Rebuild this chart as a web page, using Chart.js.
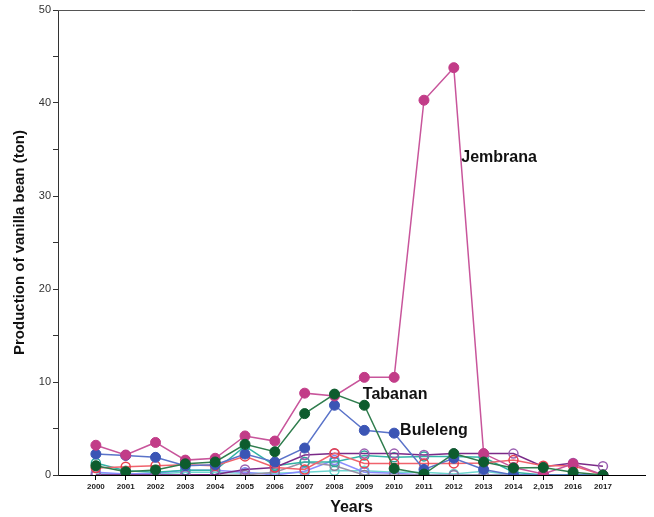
<!DOCTYPE html>
<html>
<head>
<meta charset="utf-8">
<script src="https://cdn.jsdelivr.net/npm/chart.js@4/dist/chart.umd.min.js"></script>
<style>
  body { margin: 0; background: #fff; }
  #wrap { width: 654px; height: 517px; position: relative; }
</style>
</head>
<body>
<div id="wrap"><canvas id="lineChart"></canvas></div>
<script>
// years on the x axis and the tick labels as printed
const years = [2000, 2001, 2002, 2003, 2004, 2005, 2006, 2007, 2008, 2009, 2010, 2011, 2012, 2013, 2014, 2015, 2016, 2017];
const yearLabels = ["2000", "2001", "2002", "2003", "2004", "2005", "2006", "2007", "2008", "2009", "2010", "2011", "2012", "2013", "2014", "2,015", "2016", "2017"];

// production of vanilla bean (ton) per regency
const tabanan   = [1.0, 0.35, 0.55, 1.2, 1.4, 3.3, 2.5, 6.6, 8.7, 7.5, 0.7, 0.1, 2.3, 1.4, 0.75, 0.8, 0.3, 0.0];
const jembrana  = [3.2, 2.15, 3.5, 1.6, 1.8, 4.2, 3.65, 8.8, 8.5, 10.5, 10.5, 40.3, 43.8, 2.3, 0.8, 0.1, 1.2, 0.0];
const buleleng  = [2.25, 2.1, 1.9, 1.0, 1.1, 2.25, 1.4, 2.9, 7.5, 4.8, 4.5, 0.6, 1.8, 0.6, 0.0, 0.0, 0.0, 0.0];
const badung    = [0.75, 0.9, 1.0, 1.1, 1.0, 2.0, 0.8, 0.6, 2.35, 1.25, 1.25, 1.25, 1.25, 1.3, 1.6, 1.0, 1.0, 0.0];
const gianyar   = [0.0, 0.0, 0.0, 0.0, 0.05, 0.6, 0.8, 2.15, 2.3, 2.3, 2.3, 2.15, 2.3, 2.3, 2.3, 0.9, 1.3, 0.95];
const karangasem = [1.3, 0.45, 0.3, 0.5, 0.5, 3.1, 1.0, 1.4, 1.4, 2.1, 1.9, 2.0, 2.0, 1.9, 0.3, 0.0, 0.0, 0.0];
const bangli    = [0.3, 0.1, 0.2, 0.5, 0.5, 0.3, 0.0, 0.4, 1.6, 0.3, 0.2, 0.0, 0.0, 0.0, 0.0, 0.0, 0.0, 0.0];
const klungkung = [0.1, 0.1, 0.1, 0.3, 0.3, 0.2, 0.2, 0.3, 0.45, 0.45, 0.3, 0.3, 0.1, 0.4, 0.0, 0.0, 0.0, 0.0];
const denpasar  = [0.0, 0.0, 0.0, 0.0, 0.0, 0.0, 0.3, 1.4, 1.0, 0.0, 0.0, 0.0, 0.0, 0.0, 0.0, 0.0, 0.0, 0.0];

// y ticks
const yMax = 50;
const yStep = 5;

// labels placed next to the lines
const callouts = [
  { text: "Jembrana", x: 2012.25, y: 34.1 },
  { text: "Tabanan", x: 2008.95, y: 8.6 },
  { text: "Buleleng", x: 2010.2, y: 4.8 }
];

const FONT = "'Liberation Sans', Arial, sans-serif";

function toPoints(values) {
  return values.map((v, i) => ({ x: years[i], y: v }));
}

function series(label, values, color, lineColor, filled) {
  return {
    label: label,
    data: toPoints(values),
    borderColor: lineColor,
    borderWidth: 1.5,
    pointRadius: filled ? 5 : 4.5,
    pointBorderWidth: filled ? 1 : 1.5,
    pointBackgroundColor: filled ? color : "rgba(255,255,255,0)",
    pointBorderColor: color,
    tension: 0
  };
}

// first dataset is drawn on top
const datasets = [
  series("Tabanan", tabanan, "#0d5c2e", "#2f7d4d", true),
  series("Jembrana", jembrana, "#c23c88", "#c8559b", true),
  series("Buleleng", buleleng, "#3b55b5", "#5a73c9", true),
  series("Badung", badung, "#e8414e", "#f0626c", false),
  series("Gianyar", gianyar, "#9a5fb0", "#7a2a88", false),
  series("Karangasem", karangasem, "#2aa89c", "#33b3a6", false),
  series("Denpasar", denpasar, "#8c8099", "#9a90a8", false),
  series("Bangli", bangli, "#7f86f2", "#8a8cff", false),
  series("Klungkung", klungkung, "#67d1ca", "#6fd6d0", false)
];

// top frame line and the text callouts
const extras = {
  id: "extras",
  beforeDatasetsDraw(chart) {
    const { ctx, chartArea } = chart;
    ctx.save();
    ctx.strokeStyle = "#555";
    ctx.lineWidth = 1;
    ctx.beginPath();
    ctx.moveTo(chartArea.left, chartArea.top + 0.5);
    ctx.lineTo(chartArea.right, chartArea.top + 0.5);
    ctx.stroke();
    ctx.restore();
  },
  afterDatasetsDraw(chart) {
    const { ctx, scales } = chart;
    ctx.save();
    ctx.font = "bold 16px " + FONT;
    ctx.fillStyle = "#111";
    ctx.textAlign = "left";
    ctx.textBaseline = "middle";
    callouts.forEach((c) => {
      ctx.fillText(c.text, scales.x.getPixelForValue(c.x), scales.y.getPixelForValue(c.y));
    });
    ctx.restore();
  }
};

const ctx = document.getElementById("lineChart").getContext("2d");
new Chart(ctx, {
  type: "line",
  data: { datasets: datasets },
  options: {
    responsive: true,
    maintainAspectRatio: false,
    animation: false,
    layout: { padding: { left: 0, right: 9, top: 10, bottom: 0 } },
    plugins: {
      legend: { display: false },
      tooltip: { enabled: false }
    },
    scales: {
      x: {
        type: "linear",
        min: 1998.73,
        max: 2018.41,
        afterBuildTicks: (scale) => {
          scale.ticks = years.map((v) => ({ value: v }));
        },
        afterFit: (scale) => { scale.height = 42; },
        grid: { drawOnChartArea: false, drawTicks: true, tickLength: 5, color: "#000" },
        border: { color: "#000", width: 1 },
        ticks: {
          autoSkip: false,
          maxRotation: 0,
          padding: 2,
          color: "#222",
          font: { family: FONT, size: 8, weight: "bold" },
          callback: (v) => yearLabels[years.indexOf(v)]
        },
        title: {
          display: true,
          text: "Years",
          color: "#111",
          font: { family: FONT, size: 16, weight: "bold" },
          padding: { top: 0, bottom: 0 }
        }
      },
      y: {
        min: 0,
        max: yMax,
        afterFit: (scale) => { scale.width = 58; },
        grid: { drawOnChartArea: false, drawTicks: true, tickLength: 5, color: "#333" },
        border: { color: "#333", width: 1 },
        ticks: {
          stepSize: yStep,
          padding: 2,
          color: "#333",
          font: { family: FONT, size: 11 },
          callback: (v) => (v % 10 === 0 ? v : "")
        },
        title: {
          display: true,
          text: "Production of vanilla bean (ton)",
          color: "#111",
          font: { family: FONT, size: 15, weight: "bold" },
          padding: { top: 11, bottom: 0 }
        }
      }
    }
  },
  plugins: [extras]
});
</script>
</body>
</html>
